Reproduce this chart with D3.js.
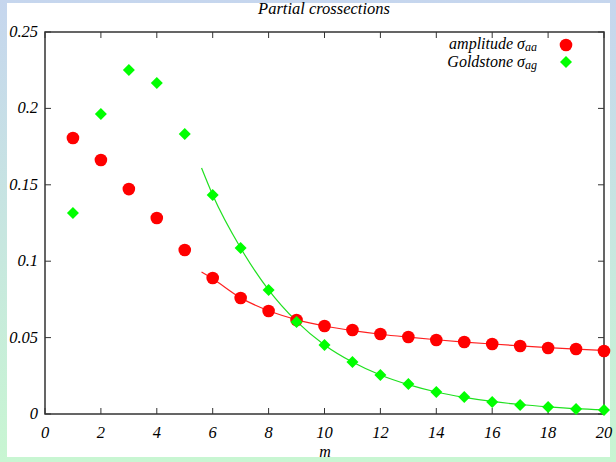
<!DOCTYPE html>
<html>
<head>
<meta charset="utf-8">
<script src="https://cdn.jsdelivr.net/npm/d3@7"></script>
<style>
  body { margin: 0; }
  text { font-family: "Liberation Serif", "DejaVu Serif", serif; font-style: italic; }
</style>
</head>
<body>
<div id="viz"></div>
<script>
// data
var mValues = d3.range(1, 21);
var amplitude = [0.1806, 0.1662, 0.1472, 0.1283, 0.1073, 0.0890, 0.0759, 0.0674, 0.0615, 0.0576,
                 0.0550, 0.0524, 0.0504, 0.0484, 0.0471, 0.0458, 0.0445, 0.0432, 0.0425, 0.0412];
var goldstone = [0.1315, 0.1963, 0.2251, 0.2166, 0.1832, 0.1433, 0.1086, 0.0812, 0.0602, 0.0452,
                 0.0340, 0.0255, 0.0196, 0.0144, 0.0111, 0.0079, 0.0059, 0.0046, 0.0033, 0.0026];
// fitted curves
var fitM = [5.6, 6, 7, 8, 9, 10, 11, 12, 13, 14, 15, 16, 17, 18, 19, 20];
var fitAmplitude = [0.0929, 0.0885, 0.0760, 0.0676, 0.0618, 0.0576, 0.0546, 0.0522, 0.0503, 0.0486,
                    0.0471, 0.0458, 0.0446, 0.0435, 0.0425, 0.0416];
var fitGoldstone = [0.1610, 0.1433, 0.1086, 0.0812, 0.0606, 0.0452, 0.0340, 0.0255, 0.0192, 0.0144,
                    0.0109, 0.0082, 0.0062, 0.0047, 0.0035, 0.0027];
var xTicks = d3.range(0, 21, 2);
var yTicks = [0, 0.05, 0.1, 0.15, 0.2, 0.25];
var legendLabels = [["amplitude σ", "aa"], ["Goldstone σ", "ag"]];

var width = 616, height = 462;

var svg = d3.select('#viz')
  .append('svg')
  .attr('width', width)
  .attr('height', height);

// background gradient frame
var grad = svg.append("defs").append("linearGradient")
  .attr("id", "bg").attr("x1", 0).attr("y1", 0).attr("x2", 0).attr("y2", 1);
grad.append("stop").attr("offset", "0%").attr("stop-color", "#c6d6ee");
grad.append("stop").attr("offset", "100%").attr("stop-color", "#c8f6d2");
svg.append("rect").attr("width", width).attr("height", height).attr("fill", "url(#bg)");
svg.append("rect").attr("x", 7).attr("y", 3).attr("width", 603).attr("height", 454).attr("fill", "white");

var x = d3.scaleLinear().domain([0, 20]).range([45, 604]);
var y = d3.scaleLinear().domain([0, 0.25]).range([414, 32]);

// ticks (inward on all four sides)
var tickLen = 6;
var axisColor = "#333";
var tg = svg.append("g").attr("stroke", axisColor).attr("stroke-width", 1);
xTicks.forEach(function(t) {
  tg.append("line").attr("x1", x(t)).attr("x2", x(t)).attr("y1", y(0)).attr("y2", y(0) - tickLen);
  tg.append("line").attr("x1", x(t)).attr("x2", x(t)).attr("y1", y(0.25)).attr("y2", y(0.25) + tickLen);
});
yTicks.forEach(function(t) {
  tg.append("line").attr("x1", x(0)).attr("x2", x(0) + tickLen).attr("y1", y(t)).attr("y2", y(t));
  tg.append("line").attr("x1", x(20)).attr("x2", x(20) - tickLen).attr("y1", y(t)).attr("y2", y(t));
});

svg.append("rect")
  .attr("x", x(0)).attr("y", y(0.25))
  .attr("width", x(20) - x(0)).attr("height", y(0) - y(0.25))
  .attr("fill", "none").attr("stroke", axisColor).attr("stroke-width", 1.5);

// tick labels
svg.append("g").selectAll("text")
  .data(xTicks).join("text")
  .attr("x", d => x(d)).attr("y", 438)
  .attr("text-anchor", "middle").attr("font-size", 16.5)
  .text(d => d);
svg.append("g").selectAll("text")
  .data(yTicks).join("text")
  .attr("x", 38).attr("y", d => y(d) + 5)
  .attr("text-anchor", "end").attr("font-size", 16.5)
  .text(d => d);

// titles
svg.append("text").attr("x", 324).attr("y", 14).attr("text-anchor", "middle")
  .attr("font-size", 16.5).text("Partial crossections");
svg.append("text").attr("x", 325).attr("y", 457).attr("text-anchor", "middle")
  .attr("font-size", 16).text("m");

// fit curves
var line = d3.line().curve(d3.curveMonotoneX);
svg.append("path")
  .attr("d", line(fitM.map((m, i) => [x(m), y(fitAmplitude[i])])))
  .attr("fill", "none").attr("stroke", "#ff2020").attr("stroke-width", 1.2);
svg.append("path")
  .attr("d", line(fitM.map((m, i) => [x(m), y(fitGoldstone[i])])))
  .attr("fill", "none").attr("stroke", "#20e020").attr("stroke-width", 1.2);

// points
svg.append("g").selectAll("circle")
  .data(mValues).join("circle")
  .attr("cx", d => x(d)).attr("cy", (d, i) => y(amplitude[i]))
  .attr("r", 6.3).attr("fill", "#ff0000");
var diamond = d3.symbol().type(d3.symbolSquare).size(72);
svg.append("g").selectAll("path")
  .data(mValues).join("path")
  .attr("d", diamond)
  .attr("transform", (d, i) => "translate(" + x(d) + "," + y(goldstone[i]) + ") rotate(45)")
  .attr("fill", "#00ff00");

// legend
var lg = svg.append("g");
legendLabels.forEach(function(l, i) {
  var t = lg.append("text").attr("x", 537).attr("y", 49 + i * 18)
    .attr("text-anchor", "end").attr("font-size", 16);
  t.append("tspan").text(l[0]);
  t.append("tspan").attr("dy", 2).attr("font-size", 12).text(l[1]);
});
lg.append("circle").attr("cx", 566).attr("cy", 45).attr("r", 6.3).attr("fill", "#ff0000");
lg.append("path").attr("d", diamond)
  .attr("transform", "translate(566,62) rotate(45)").attr("fill", "#00ff00");
</script>
</body>
</html>
